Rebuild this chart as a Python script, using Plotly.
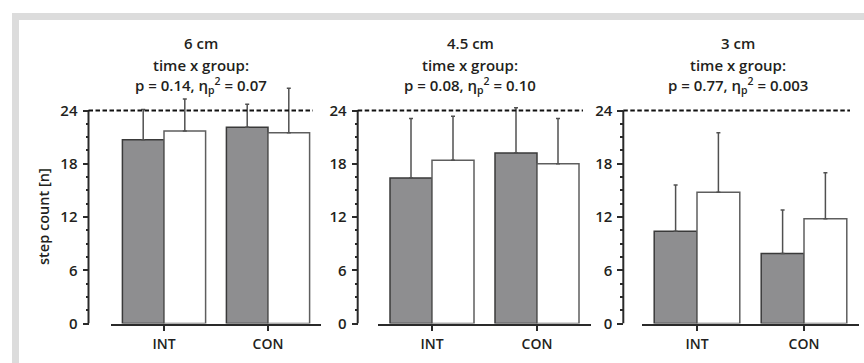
import plotly.graph_objects as go

W, H = 864, 363

groups = ["INT", "CON"]
panel_titles = ["6 cm", "4.5 cm", "3 cm"]
stat_lines = [
    "p = 0.14, η<sub>p</sub><sup>2</sup> = 0.07",
    "p = 0.08, η<sub>p</sub><sup>2</sup> = 0.10",
    "p = 0.77, η<sub>p</sub><sup>2</sup> = 0.003",
]
pre_6 = [20.7, 22.1]
post_6 = [21.7, 21.5]
pre_sd_6 = [3.4, 2.6]
post_sd_6 = [3.6, 5.0]
pre_45 = [16.4, 19.2]
post_45 = [18.4, 18.0]
pre_sd_45 = [6.7, 5.1]
post_sd_45 = [4.95, 5.1]
pre_3 = [10.4, 7.9]
post_3 = [14.8, 11.8]
pre_sd_3 = [5.2, 4.9]
post_sd_3 = [6.7, 5.2]
max_steps = 24
y_ticks = [0, 6, 12, 18, 24]
y_minor = [1.5, 3, 4.5, 7.5, 9, 10.5, 13.5, 15, 16.5, 19.5, 21, 22.5]
y_top = 28  # headroom for error bars above the axis

panels = [
    (pre_6, post_6, pre_sd_6, post_sd_6),
    (pre_45, post_45, pre_sd_45, post_sd_45),
    (pre_3, post_3, pre_sd_3, post_sd_3),
]

# layout (pixels)
yaxis_px = [88.5, 357.7, 623.3]
int_px = [164, 432, 697]
unit_px = [104, 105, 107]
xr = [-0.51, 1.51]
title_cx = [201, 470, 738]
dash_end_px = [313, 583, 850]
y0_px, y24_px = 323.5, 110.5
ytop_px = y0_px - (y0_px - y24_px) * y_top / max_steps

def fx(px):
    return px / W

def fy(py):
    return 1 - py / H

fig = go.Figure()
FONT = "Open Sans"
TXT = "#231f20"
AX = "#2a2a2a"
WT = 600

layout = dict(
    width=W, height=H, autosize=False,
    margin=dict(l=0, r=0, t=0, b=0, pad=0, autoexpand=False),
    paper_bgcolor="white",
    plot_bgcolor="rgba(0,0,0,0)",
    showlegend=False,
    font=dict(family=FONT, color=TXT, size=14),
    shapes=[],
    annotations=[],
)

# gray frame
layout["shapes"].append(dict(type="rect", xref="paper", yref="paper",
                             x0=fx(12), x1=1.05, y0=-0.05, y1=fy(13),
                             fillcolor="#dcdcdc", line=dict(width=0), layer="below"))
layout["shapes"].append(dict(type="rect", xref="paper", yref="paper",
                             x0=fx(19), x1=1.05, y0=-0.05, y1=fy(20),
                             fillcolor="white", line=dict(width=0), layer="below"))

for i, (pre, post, pre_sd, post_sd) in enumerate(panels):
    n = "" if i == 0 else str(i + 1)
    xa, ya = "x" + n, "y" + n
    fig.add_trace(go.Bar(
        x=groups, y=pre, xaxis=xa, yaxis=ya,
        offset=-0.4, width=0.4,
        marker=dict(color="#8e8e90", line=dict(color="#3a3a3a", width=1.5)),
        error_y=dict(type="data", symmetric=False, array=pre_sd, arrayminus=[0, 0],
                     color="#505050", thickness=1.5, width=2),
    ))
    fig.add_trace(go.Bar(
        x=groups, y=post, xaxis=xa, yaxis=ya,
        offset=0.0, width=0.4,
        marker=dict(color="white", line=dict(color="#5e5e5e", width=1.5)),
        error_y=dict(type="data", symmetric=False, array=post_sd, arrayminus=[0, 0],
                     color="#505050", thickness=1.5, width=2),
    ))
    d0 = int_px[i] + xr[0] * unit_px[i]
    d1 = int_px[i] + xr[1] * unit_px[i]
    layout["xaxis" + n] = dict(
        domain=[fx(d0), fx(d1)], range=xr, anchor=ya,
        type="category", categoryorder="array", categoryarray=groups,
        showline=True, linecolor=AX, linewidth=2,
        ticks="outside", ticklen=5, tickwidth=2, tickcolor=AX,
        showgrid=False, zeroline=False, fixedrange=True, automargin=False,
        tickfont=dict(size=14, color=TXT, weight=WT), ticklabelstandoff=2,
    )
    layout["yaxis" + n] = dict(
        domain=[fy(y0_px), fy(ytop_px)], range=[0, y_top],
        anchor="free", position=fx(yaxis_px[i]),
        showline=False,
        tickvals=y_ticks, ticks="outside", ticklen=6, tickwidth=2, tickcolor=AX,
        minor=dict(tickvals=y_minor, ticks="outside", ticklen=3, tickwidth=1.5,
                   tickcolor=AX, showgrid=False),
        showgrid=False, zeroline=False, fixedrange=True, automargin=False,
        tickfont=dict(size=15, color=TXT, weight=WT), ticklabelstandoff=2,
    )
    # y axis line, only up to the maximum step count
    layout["shapes"].append(dict(type="line", xref="paper", yref=ya,
                                 x0=fx(yaxis_px[i]), x1=fx(yaxis_px[i]),
                                 y0=0, y1=max_steps,
                                 line=dict(color=AX, width=2)))
    # dashed max line
    layout["shapes"].append(dict(type="line", xref="paper", yref=ya,
                                 x0=fx(yaxis_px[i]), x1=fx(dash_end_px[i]),
                                 y0=max_steps, y1=max_steps,
                                 line=dict(color="#111111", width=2.2, dash="4.5px,2.5px")))
    for j, (txt, cy) in enumerate([(panel_titles[i], 43), ("time x group:", 65), (stat_lines[i], 86)]):
        layout["annotations"].append(dict(
            text=txt, xref="paper", yref="paper", x=fx(title_cx[i]), y=fy(cy),
            xanchor="center", yanchor="middle", showarrow=False,
            font=dict(size=15, color=TXT, family=FONT, weight=WT)))

layout["annotations"].append(dict(
    text="step count [n]", xref="paper", yref="paper", x=fx(43), y=fy(217),
    xanchor="center", yanchor="middle", showarrow=False, textangle=-90,
    font=dict(size=14.5, color=TXT, family=FONT, weight=WT)))

fig.update_layout(**layout)
fig.write_html(
    "out.html",
    config={"responsive": False, "displayModeBar": False},
    post_script="document.body.style.margin='0';document.body.style.overflow='hidden';",
)
